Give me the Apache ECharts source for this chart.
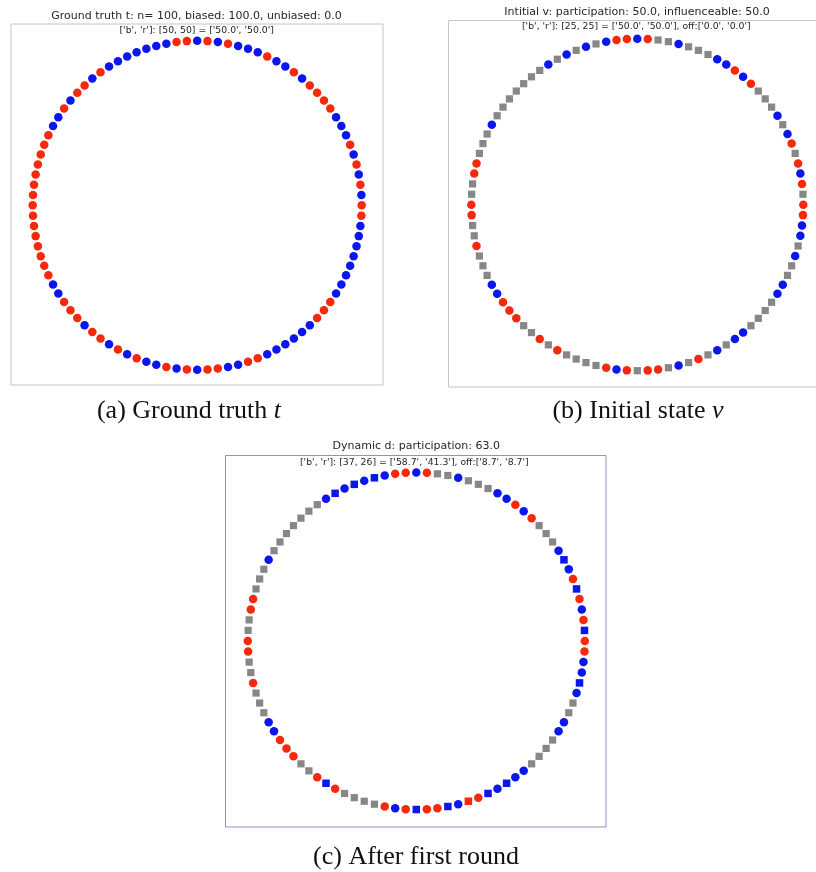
<!DOCTYPE html>
<html>
<head>
<meta charset="utf-8">
<script src="https://cdn.jsdelivr.net/npm/echarts@6/dist/echarts.min.js"></script>
<style>
  html, body { margin: 0; padding: 0; background: #fff; }
  #chart { width: 816px; height: 872px; }
</style>
</head>
<body>
<div id="chart"></div>
<script>
// Node states around the ring, node 0 at 3 o'clock, counting anticlockwise.
// r / b = red / blue voter, g = not participating, R / B = newly influenced (square).
const truthNodes = (
  'rbrbrbrbbbrrrrbrbbrbbbrbr' +
  'brrbbbbbbbrbrrbrbbrrrrrrr' +
  'rrrrrrrrbbrrrbrrbrbrbbrbr' +
  'brrbbrrbbbbbbrrrbbbbbbbbr'
).split('');

const initialNodes = (
  'rgrbrgrbgbgggrbrbbgggbggr' +
  'brrbgbgbgbgggggggbgggrrgg' +
  'rrggrgggbbrrrggrgrggggrbr' +
  'grrgbgrgbgbbggggbbggbgbbr'
).split('');

const dynamicNodes = (
  'rBrbrBrbBbgggrbrbbgggbggr' +
  'brrbBbBbBbgggggggbgggrrgg' +
  'rrggrgggbbrrrggrBrggggrbr' +
  'BrrBbRrBbBbbggggbbggbBbbr'
).split('');

const panelTitles = [
  'Ground truth t: n= 100, biased: 100.0, unbiased: 0.0',
  'Intitial v: participation: 50.0, influenceable: 50.0',
  'Dynamic d: participation: 63.0'
];
const panelSubtitles = [
  "['b', 'r']: [50, 50] = ['50.0', '50.0']",
  "['b', 'r']: [25, 25] = ['50.0', '50.0'], off:['0.0', '0.0']",
  "['b', 'r']: [37, 26] = ['58.7', '41.3'], off:['8.7', '8.7']"
];
const captions = [
  ['(a) Ground truth ', 't'],
  ['(b) Initial state ', 'v'],
  ['(c) After first round', '']
];

const RED = '#f8280c';
const BLUE = '#0a16ee';
const GREY = '#878787';

const markStyle = {
  r: { symbol: 'circle', size: 8.5, color: RED },
  b: { symbol: 'circle', size: 8.5, color: BLUE },
  g: { symbol: 'rect', size: 7.2, color: GREY },
  R: { symbol: 'rect', size: 7.5, color: RED },
  B: { symbol: 'rect', size: 7.5, color: BLUE }
};

const panels = [
  { nodes: truthNodes, center: [197.2, 205.3], radius: 164.5,
    box: [11, 24, 372, 361], boxColor: '#c4c4c4',
    titleY: 16, subY: 30.5, titleX: 196.5, subX: 196.7,
    capX: 189, capY: 411 },
  { nodes: initialNodes, center: [637.3, 204.7], radius: 166,
    box: [448.5, 20.5, 380, 366.5], boxColor: '#c4c4c4',
    titleY: 12.5, subY: 27, titleX: 637, subX: 636.3,
    capX: 638, capY: 411 },
  { nodes: dynamicNodes, center: [416.3, 641], radius: 168.5,
    box: [225.5, 455.5, 380.5, 371.5], boxColor: '#8a92cf',
    titleY: 446.5, subY: 462.5, titleX: 416.3, subX: 414.3,
    capX: 416, capY: 857 }
];

const polar = [], angleAxis = [], radiusAxis = [], series = [], graphic = [];

panels.forEach((p, i) => {
  // frame
  graphic.push({
    type: 'rect', silent: true, z: 0,
    shape: { x: p.box[0], y: p.box[1], width: p.box[2], height: p.box[3] },
    style: { fill: 'none', stroke: p.boxColor, lineWidth: 1 }
  });

  polar.push({ center: p.center, radius: p.radius });
  angleAxis.push({ polarIndex: i, type: 'value', min: 0, max: p.nodes.length,
    startAngle: 0, clockwise: false, show: false });
  radiusAxis.push({ polarIndex: i, type: 'value', min: 0, max: 1, show: false });

  Object.keys(markStyle).forEach(code => {
    const data = [];
    p.nodes.forEach((c, k) => { if (c === code) data.push([1, k]); });
    if (!data.length) return;
    const s = markStyle[code];
    series.push({
      type: 'scatter', coordinateSystem: 'polar', polarIndex: i,
      symbol: s.symbol, symbolSize: s.size,
      itemStyle: { color: s.color, opacity: 1 },
      silent: true, z: 3, data
    });
  });

  graphic.push({
    type: 'text', x: p.titleX, y: p.titleY, silent: true,
    style: { text: panelTitles[i], fill: '#262626', font: '11px "DejaVu Sans"',
      textAlign: 'center', textVerticalAlign: 'middle' }
  });
  graphic.push({
    type: 'text', x: p.subX, y: p.subY, silent: true,
    style: { text: panelSubtitles[i], fill: '#262626', font: '9.3px "DejaVu Sans"',
      textAlign: 'center', textVerticalAlign: 'middle' }
  });
  const cap = captions[i];
  graphic.push({
    type: 'text', x: p.capX, y: p.capY, silent: true,
    style: {
      text: '{n|' + cap[0] + '}' + (cap[1] ? '{m|' + cap[1] + '}' : ''),
      textAlign: 'center', textVerticalAlign: 'middle',
      rich: {
        n: { fontFamily: 'Liberation Serif', fontSize: 26, fill: '#111' },
        m: { fontFamily: 'Liberation Serif', fontSize: 26, fontStyle: 'italic', fill: '#111' }
      }
    }
  });
});

const chart = echarts.init(document.getElementById('chart'), null, { renderer: 'canvas' });
chart.setOption({
  animation: false,
  backgroundColor: '#ffffff',
  polar, angleAxis, radiusAxis, series, graphic
});
</script>
</body>
</html>
